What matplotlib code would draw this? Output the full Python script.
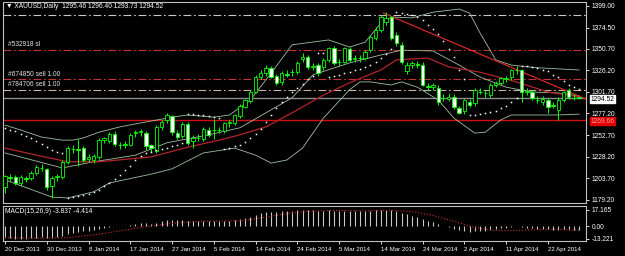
import numpy as np
import matplotlib.pyplot as plt

plt.rcParams['font.family'] = ['Liberation Sans', 'DejaVu Sans']

# ---- daily candles, XAUUSD ----
opens = [1194, 1205, 1205, 1198, 1204, 1204, 1210, 1216, 1214, 1195,
         1205, 1205, 1222, 1237, 1237, 1238, 1226, 1225, 1228, 1247,
         1246, 1254, 1242, 1241, 1242, 1255, 1256, 1255, 1241, 1235,
         1262, 1270, 1274, 1255, 1252, 1265, 1246, 1250, 1248, 1259,
         1258, 1258, 1257, 1266, 1266, 1274, 1285, 1291, 1302, 1319,
         1323, 1329, 1320, 1313, 1322, 1324, 1324, 1339, 1341, 1330,
         1332, 1330, 1338, 1351, 1335, 1336, 1350, 1339, 1340, 1340,
         1349, 1363, 1372, 1381, 1386, 1366, 1355, 1325, 1332, 1333,
         1332, 1308, 1307, 1306, 1295, 1294, 1296, 1283, 1280, 1290,
         1289, 1302, 1300, 1298, 1310, 1312, 1316, 1318, 1326, 1326,
         1302, 1302, 1293, 1290, 1292, 1287, 1281, 1292, 1304, 1295,
         1295.46]
highs = [1208, 1209, 1207, 1207, 1206, 1212, 1219, 1220, 1216, 1206,
         1209, 1224, 1240, 1241, 1248, 1240, 1231, 1231, 1249, 1251,
         1256, 1257, 1245, 1246, 1255, 1259, 1260, 1257, 1243, 1264,
         1270, 1278, 1276, 1258, 1268, 1268, 1253, 1254, 1262, 1262,
         1271, 1262, 1268, 1270, 1277, 1288, 1294, 1304, 1321, 1326,
         1332, 1331, 1322, 1325, 1327, 1328, 1337, 1346, 1344, 1334,
         1334, 1340, 1353, 1354, 1339, 1353, 1352, 1343, 1344, 1349,
         1366, 1375, 1389, 1392, 1388, 1369, 1358, 1335, 1337, 1337,
         1335, 1312, 1312, 1309, 1299, 1300, 1299, 1286, 1294, 1294,
         1306, 1306, 1304, 1312, 1314, 1319, 1320, 1328, 1331, 1328,
         1306, 1304, 1297, 1297, 1295, 1290, 1296, 1303, 1306, 1299,
         1296.40]
lows = [1187, 1201, 1196, 1195, 1200, 1202, 1208, 1212, 1191, 1181,
        1201, 1203, 1220, 1233, 1218, 1222, 1222, 1221, 1226, 1244,
        1244, 1240, 1237, 1238, 1240, 1251, 1252, 1236, 1234, 1232,
        1259, 1266, 1253, 1248, 1250, 1241, 1238, 1246, 1246, 1251,
        1248, 1255, 1255, 1262, 1264, 1272, 1283, 1289, 1300, 1316,
        1320, 1317, 1309, 1310, 1318, 1320, 1322, 1336, 1328, 1326,
        1320, 1327, 1336, 1332, 1331, 1334, 1336, 1335, 1336, 1338,
        1347, 1361, 1370, 1378, 1360, 1354, 1333, 1322, 1329, 1329,
        1308, 1303, 1304, 1287, 1291, 1291, 1282, 1277, 1277, 1284,
        1286, 1299, 1296, 1296, 1307, 1309, 1313, 1315, 1322, 1290,
        1298, 1293, 1289, 1287, 1278, 1283, 1270, 1290, 1294, 1292,
        1293.73]
closes = [1206, 1204, 1198, 1205, 1203, 1210, 1217, 1215, 1194, 1204,
          1206, 1222, 1238, 1237, 1236, 1225, 1228, 1229, 1247, 1249,
          1254, 1243, 1241, 1243, 1253, 1256, 1257, 1240, 1238, 1262,
          1267, 1275, 1256, 1251, 1265, 1244, 1250, 1250, 1260, 1253,
          1258, 1259, 1266, 1267, 1275, 1286, 1292, 1302, 1319, 1323,
          1329, 1319, 1312, 1323, 1321, 1324, 1334, 1341, 1330, 1331,
          1323, 1338, 1351, 1334, 1336, 1351, 1338, 1340, 1340, 1347,
          1364, 1372, 1386, 1385, 1363, 1357, 1336, 1332, 1334, 1332,
          1310, 1307, 1309, 1290, 1295, 1296, 1284, 1278, 1292, 1287,
          1304, 1301, 1300, 1310, 1312, 1317, 1317, 1326, 1327, 1302,
          1303, 1295, 1293, 1294, 1285, 1286, 1293, 1301, 1296, 1295,
          1294.52]

# parabolic SAR dots
sar = [1261, 1259, 1257, 1254.5, 1252, 1249, 1246, 1242.5, 1239, 1236,
       1234, 1233, 1181.5, 1182.5, 1183.5, 1184.5, 1186, 1188, 1191, 1195,
       1198.5, 1203, 1208, 1213, 1218, 1224, 1229, 1232, 1234, 1236,
       1237, 1238, 1240, 1242, 1244, 1277, 1276.5, 1276, 1275, 1274,
       1273, 1272, 1237, 1238.5, 1240, 1242, 1245, 1249, 1254, 1260,
       1267, 1275, 1283, 1290, 1296, 1301, 1306, 1311, 1316, 1320,
       1346, 1345.5, 1319, 1320, 1321, 1323, 1324.5, 1326, 1328, 1330,
       1332.5, 1336, 1340, 1345, 1350, 1392, 1391, 1390, 1388.5, 1386,
       1383, 1378, 1373, 1367, 1359, 1350, 1341, 1326, 1316, 1275.5,
       1276, 1276.5, 1277.5, 1279, 1280.5, 1283, 1286, 1290, 1294.5, 1331,
       1330.5, 1330, 1329, 1327, 1325, 1321, 1318, 1314, 1310, 1307,
       1305]

# Bollinger bands and moving average (sampled along the curves)
bb_up_bars = [0, 3, 7, 11, 13, 15, 18, 22, 26, 32, 35, 40, 43, 47, 51, 55,
              62, 66, 69, 72, 74, 78, 82, 87, 89, 91, 94, 97, 102, 110]
bb_up = [1264, 1258.5, 1250.5, 1247, 1247, 1249.5, 1256, 1262, 1266.5, 1273,
         1275.5, 1273, 1275.5, 1292.5, 1323, 1355, 1360.5, 1352.5, 1358, 1379.5,
         1386.5, 1385.5, 1392, 1395.5, 1391, 1368.5, 1338, 1332, 1329, 1326.5]
bb_mid_bars = [0, 11, 17, 25, 31, 39, 45, 50, 55, 59, 66, 72, 76, 82, 87, 91,
               96, 101, 106, 110]
bb_mid = [1232.5, 1215.5, 1222.5, 1230, 1244, 1253, 1261, 1278, 1295, 1321,
          1334.5, 1343.5, 1349, 1348, 1332, 1318.5, 1307, 1301.5, 1300.5, 1297]
bb_lo_bars = [0, 9, 12, 17, 20, 28, 32, 38, 44, 48, 51, 54, 57, 61, 66, 68,
              70, 74, 76, 79, 83, 86, 90, 92, 95, 97, 101, 106, 110]
bb_lo = [1202, 1182.5, 1181.5, 1188.5, 1198.5, 1208.5, 1214.5, 1232.5, 1238, 1230,
         1221, 1224.5, 1238, 1272, 1304, 1313, 1313, 1309.5, 1313, 1307,
         1292.5, 1272, 1255, 1256, 1270, 1275.5, 1275.5, 1275.5, 1276.5]
ma_bars = [0, 6, 12, 18, 28, 35, 41, 45, 50, 55, 61, 66, 72, 75, 81, 85, 91,
           98, 104, 110]
ma_vals = [1238, 1230, 1222.5, 1222.5, 1228, 1239, 1247, 1253, 1262, 1278,
           1298, 1312, 1326.5, 1338, 1340, 1330, 1324, 1313, 1301.5, 1296]
trend_bars = [72.5, 111.3]
trend_vals = [1391, 1293.5]

# order / level lines
level_vals = [1389.0, 1349.5, 1316.0, 1304.2]
level_cols = ['#C8C8C8', '#C83232', '#C83232', '#C8B4A0']
level_text = ['', '#532918 sl', '#674850 sell 1.00', '#784706 sell 1.00']
bid = 1294.52
red_level = 1269.66

price_ticks = [1399.00, 1374.50, 1350.70, 1326.20, 1301.70,
               1277.20, 1252.70, 1228.20, 1203.70, 1179.20]

# MACD(15,26,9)
macd_hist = [-12.5, -12.8, -13.0, -13.2, -13.0, -12.6, -12.0, -11.5, -12.0, -12.2,
             -11.6, -10.3, -8.6, -7.3, -6.3, -5.6, -4.9, -4.2, -2.9, -1.8,
             -0.6, -0.1, 0.3, 0.6, 1.5, 2.3, 3.0, 2.8, 2.5, 3.6,
             4.8, 6.1, 6.2, 5.9, 6.3, 5.7, 5.3, 5.0, 5.2, 5.0,
             5.0, 5.0, 5.3, 5.6, 6.3, 7.4, 8.6, 10.0, 11.9, 13.3,
             14.6, 15.0, 14.9, 15.3, 15.5, 15.8, 16.4, 17.0, 16.8, 16.6,
             16.1, 16.2, 16.8, 16.2, 15.8, 16.2, 15.9, 15.6, 15.4, 15.5,
             16.2, 16.8, 17.1, 17.0, 16.5, 15.6, 14.0, 12.5, 11.0, 9.6,
             7.5, 5.6, 4.0, 2.0, 0.6, -0.8, -2.8, -4.6, -5.4, -6.0,
             -5.6, -5.2, -4.9, -4.1, -3.3, -2.5, -1.8, -0.9, -0.3, -1.0,
             -1.5, -2.1, -2.6, -2.9, -3.4, -3.7, -3.9, -3.5, -3.6, -3.8,
             -3.837]
signal_bars = [0, 6, 12, 18, 22, 26, 30, 34, 38, 42, 46, 50, 54, 58, 62, 66,
               70, 74, 78, 82, 86, 90, 94, 98, 102, 106, 110]
signal_vals = [-12.0, -12.8, -12.2, -8.5, -5.0, -1.5, 1.5, 4.0, 5.2, 5.3,
               5.8, 9.5, 13.0, 15.5, 16.3, 16.3, 16.0, 16.6, 15.2, 11.0,
               5.0, -1.5, -4.6, -4.5, -3.6, -3.4, -4.414]

date_bars = [0, 8, 16, 24, 32, 40, 48, 56, 64, 72, 80, 88, 96, 104]
date_labels = ['20 Dec 2013', '30 Dec 2013', '8 Jan 2014', '17 Jan 2014',
               '27 Jan 2014', '5 Feb 2014', '14 Feb 2014', '24 Feb 2014',
               '5 Mar 2014', '14 Mar 2014', '24 Mar 2014', '2 Apr 2014',
               '11 Apr 2014', '22 Apr 2014']

W, H = 625, 256
fig = plt.figure(figsize=(W / 100, H / 100), dpi=100, facecolor='black')
ax = fig.add_axes([3 / W, 1 - 203 / H, 583 / W, 201 / H], facecolor='black')
ax2 = fig.add_axes([3 / W, 1 - 241 / H, 583 / W, 35 / H], facecolor='black', sharex=ax)

x = np.arange(len(closes))
o = np.array(opens)
c = np.array(closes)

# levels
for v, col in zip(level_vals, level_cols):
    ax.axhline(v, color=col, lw=0.8, dashes=(7, 2.5, 1.5, 2.5), zorder=1)
for v, t in zip(level_vals, level_text):
    if t:
        ax.text(0.5, v + 1.8, t, color='#E0E0E0', fontsize=4.8, va='bottom', zorder=6)
ax.axhline(bid, color='#8C8C8C', lw=1.0, zorder=1)
ax.axhline(red_level, color='#D01010', lw=1.0, zorder=1)

# indicators
bb_col = '#9FBFA0'
ax.plot(bb_up_bars, bb_up, color=bb_col, lw=0.6, zorder=2)
ax.plot(bb_mid_bars, bb_mid, color=bb_col, lw=0.6, zorder=2)
ax.plot(bb_lo_bars, bb_lo, color=bb_col, lw=0.6, zorder=2)
ax.plot(ma_bars, ma_vals, color='#B4232A', lw=0.9, zorder=2)
ax.plot(trend_bars, trend_vals, color='#D42828', lw=0.9, zorder=2)
ax.plot(x, sar, ls='none', marker='s', ms=1.1, mew=0, color='white', zorder=5)

# candles
ax.vlines(x, lows, highs, color='#00FF00', lw=0.7, zorder=3)
body_col = np.where(c >= o, 'black', 'white')
ax.bar(x, np.abs(c - o), bottom=np.minimum(o, c), width=0.66, color=body_col,
       edgecolor='#00FF00', linewidth=0.6, zorder=4)

ax.set_xlim(-0.38, -0.38 + 583 / 5.22)
ax.set_ylim(1175.8, 1403.5)

ax.yaxis.tick_right()
ax.set_yticks(price_ticks)
ax.set_yticklabels(['%.2f' % p for p in price_ticks])
ax.tick_params(axis='y', colors='white', labelsize=4.8, length=2.5, width=0.6, pad=1.5)
ax.tick_params(axis='x', bottom=False, labelbottom=False)

# price boxes on the scale
ax.annotate('%.2f' % bid, xy=(1.0, bid), xycoords=('axes fraction', 'data'),
            xytext=(3, -0.8), textcoords='offset points', va='center', ha='left',
            fontsize=4.8, color='black', annotation_clip=False,
            bbox=dict(boxstyle='square,pad=0.08', fc='white', ec='white'))
ax.annotate('%.2f' % red_level, xy=(1.0, red_level), xycoords=('axes fraction', 'data'),
            xytext=(3, -0.8), textcoords='offset points', va='center', ha='left',
            fontsize=4.8, color='#FF9A9A', annotation_clip=False,
            bbox=dict(boxstyle='square,pad=0.08', fc='#E00000', ec='#E00000'))

# MACD window
ax2.vlines(x, 0, macd_hist, color='#C8C8C8', lw=0.8)
ax2.plot(signal_bars, signal_vals, color='#C83232', ls=':', lw=0.8)
ax2.set_ylim(-15.6, 21.0)
ax2.yaxis.tick_right()
ax2.set_yticks([17.165, 0.0, -13.221])
ax2.set_yticklabels(['17.165', '0.00', '-13.221'])
ax2.tick_params(axis='y', colors='white', labelsize=4.8, length=2.5, width=0.6, pad=1.5)
ax2.set_xticks(date_bars)
ax2.set_xticklabels(date_labels)
for lbl in ax2.get_xticklabels():
    lbl.set_horizontalalignment('left')
ax2.tick_params(axis='x', colors='white', labelsize=4.4, length=2.5, width=0.6, pad=1.5)
ax2.text(0.004, 0.93, 'MACD(15,26,9) -3.837 -4.414', transform=ax2.transAxes,
         color='white', fontsize=4.8, va='top', ha='left')

for a in (ax, ax2):
    for s in a.spines.values():
        s.set_color('#C0C0C0')
        s.set_linewidth(0.8)

fig.text(6 / W, 1 - 7 / H, '\u25bc XAUUSD,Daily  1295.46 1296.40 1293.73 1294.52',
         color='white', fontsize=4.8, va='center', ha='left')

fig.savefig('out.png', dpi=100, facecolor='black')
